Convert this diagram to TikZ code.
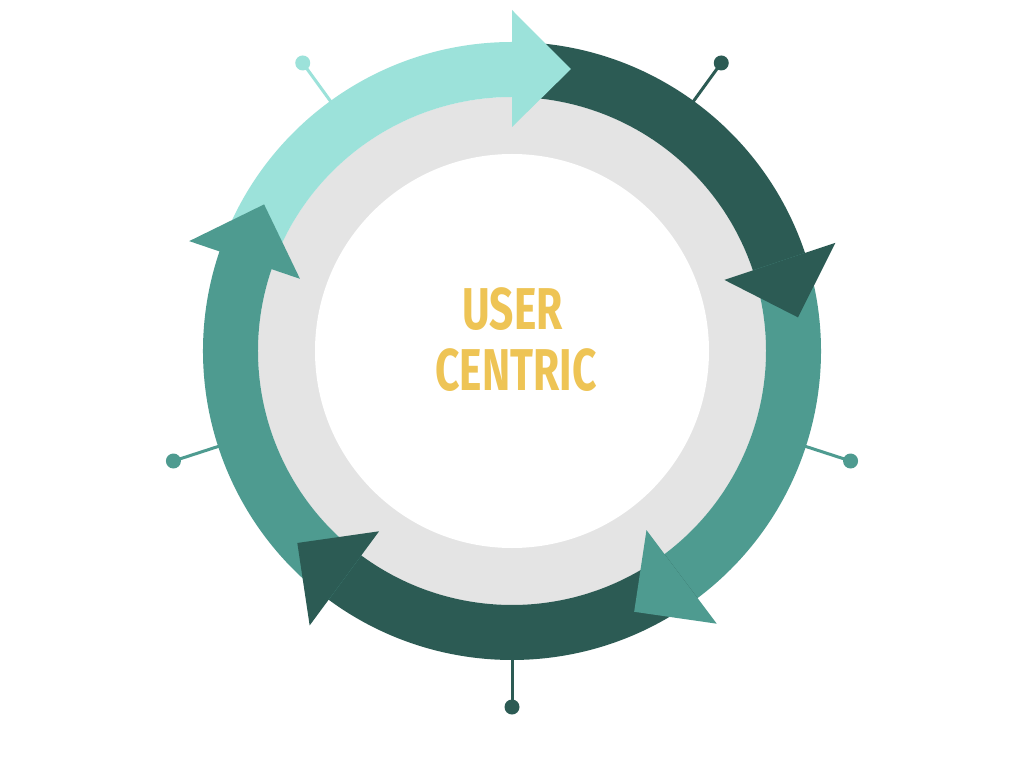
\documentclass[tikz,border=0pt]{standalone}
\usepackage{fontspec}
\newfontfamily\titlefont[FakeStretch=0.72]{Fira Sans}
\definecolor{lightteal}{HTML}{9CE2DA}
\definecolor{darkteal}{HTML}{2C5B54}
\definecolor{midteal}{HTML}{4E9B90}
\definecolor{ringgrey}{HTML}{E4E4E4}
\definecolor{gold}{HTML}{EEC455}
\tikzset{
  pinline/.style={line width=3pt},
  title/.style={anchor=base, inner sep=0pt, text=gold, font=\titlefont\bfseries\fontsize{59}{60}\selectfont}
}
\begin{document}
\begin{tikzpicture}
\useasboundingbox[fill=white] (-512pt,-422pt) rectangle (512pt,351pt);
\fill[ringgrey] (0,0) circle[radius=254pt];
\fill[white] (0,0) circle[radius=197pt];
% pins
\foreach \a/\c in {126/lightteal,54/darkteal,-18/midteal,-90/darkteal,198/midteal}{
  \draw[\c, pinline] (\a:300pt) -- (\a:356pt);
  \fill[\c] (\a:356pt) circle[radius=7.5pt];
}
% arrow bodies: start angle / end angle (head base) / colour
\foreach \s/\b/\c in {161.2/90/lightteal,90/18.5/darkteal,18.5/-53.1/midteal,-53.1/-126.4/darkteal,-126.4/-198.8/midteal}{
  \pgfmathsetmacro\e{\b-1}
  \fill[\c] (\s:309pt) arc[start angle=\s, end angle=\e, radius=309pt]
    -- (\e:254pt) arc[start angle=\e, end angle=\s, radius=254pt] -- cycle;
}
% arrow heads
\foreach \b/\c in {90/lightteal,18.5/darkteal,-53.1/midteal,-126.4/darkteal,-198.8/midteal}{
  \pgfmathsetmacro\t{\b-11.8}
  \fill[\c] (\b:341pt) -- (\t:288pt) -- (\b:224pt) -- cycle;
}
\node[title] (user) at (0.5pt,21pt) {USER};
\node[title] (centric) at (4pt,-39pt) {CENTRIC};
\end{tikzpicture}
\end{document}
